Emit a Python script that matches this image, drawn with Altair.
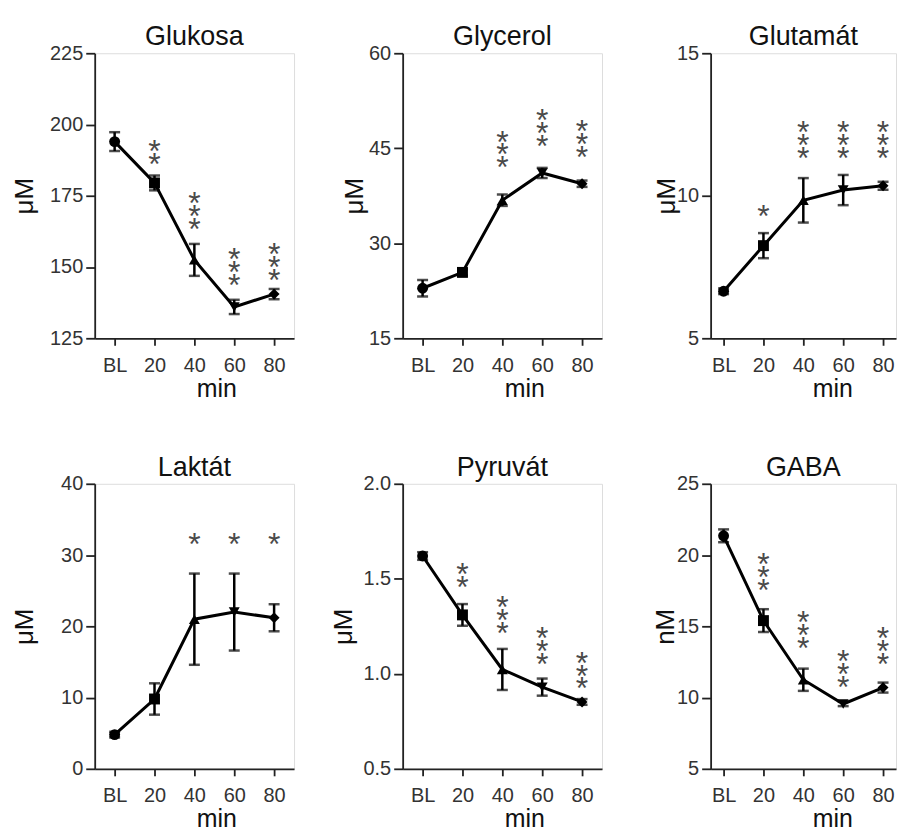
import altair as alt
import pandas as pd

times = ["BL", "20", "40", "60", "80"]
marker_shapes = ["circle", "square", "triangle-up", "triangle-down", "diamond"]

titles = ["Glukosa", "Glycerol", "Glutamát", "Laktát", "Pyruvát", "GABA"]
units = ["μM", "μM", "μM", "μM", "μM", "nM"]

glukosa_mean = [194.0, 179.5, 152.5, 136.0, 140.5]
glukosa_sem = [3.3, 2.6, 5.6, 2.5, 1.8]
glukosa_stars = ["", "**", "***", "***", "***"]
glukosa_star_y = [None, 190.1, 169.5, 150.0, 151.8]

glycerol_mean = [22.9, 25.4, 36.8, 41.1, 39.4]
glycerol_sem = [1.3, 0.5, 0.9, 0.8, 0.5]
glycerol_stars = ["", "", "***", "***", "***"]
glycerol_star_y = [None, None, 44.8, 48.2, 46.4]

glutamat_mean = [6.65, 8.25, 9.84, 10.2, 10.35]
glutamat_sem = [0.1, 0.44, 0.78, 0.53, 0.14]
glutamat_stars = ["", "*", "***", "***", "***"]
glutamat_star_y = [None, 9.46, 11.94, 11.94, 11.94]

laktat_mean = [4.8, 9.8, 21.0, 22.0, 21.2]
laktat_sem = [0.4, 2.2, 6.4, 5.4, 1.9]
laktat_stars = ["", "", "*", "*", "*"]
laktat_star_y = [None, None, 32.3, 32.3, 32.3]

pyruvat_mean = [1.62, 1.31, 1.023, 0.93, 0.852]
pyruvat_sem = [0.02, 0.057, 0.108, 0.045, 0.015]
pyruvat_stars = ["", "**", "***", "***", "***"]
pyruvat_star_y = [None, 1.516, 1.307, 1.145, 1.017]

gaba_mean = [21.35, 15.4, 11.25, 9.55, 10.7]
gaba_sem = [0.45, 0.8, 0.78, 0.15, 0.35]
gaba_stars = ["", "***", "***", "***", "***"]
gaba_star_y = [None, 18.8, 14.71, 11.98, 13.63]

y_domains = [[125, 225], [15, 60], [5, 15], [0, 40], [0.5, 2.0], [5, 25]]
y_ticks = [[125, 150, 175, 200, 225], [15, 30, 45, 60], [5, 10, 15],
           [0, 10, 20, 30, 40], [0.5, 1.0, 1.5, 2.0], [5, 10, 15, 20, 25]]
y_formats = ["d", "d", "d", "d", ".1f", "d"]

series = [
    (glukosa_mean, glukosa_sem, glukosa_stars, glukosa_star_y),
    (glycerol_mean, glycerol_sem, glycerol_stars, glycerol_star_y),
    (glutamat_mean, glutamat_sem, glutamat_stars, glutamat_star_y),
    (laktat_mean, laktat_sem, laktat_stars, laktat_star_y),
    (pyruvat_mean, pyruvat_sem, pyruvat_stars, pyruvat_star_y),
    (gaba_mean, gaba_sem, gaba_stars, gaba_star_y),
]

# layout styling (not data)
H = 286
widths = [200, 200, 186, 200, 200, 186]
xpad = [0.5, 0.5, 0.325, 0.5, 0.5, 0.325]
ytitle_x = [-70, -48, -44, -70, -59, -45]
xtitle_y = [58, 58, 58, 58, 58, 58]
FONT = "Liberation Sans"
AX = "#222222"
STAR_FS = 32
STAR_LH = 13


def panel(i):
    mean, sem, stars, star_y = series[i]
    df = pd.DataFrame({
        "t": times,
        "mean": mean,
        "lo": [m - s for m, s in zip(mean, sem)],
        "hi": [m + s for m, s in zip(mean, sem)],
        "shape": marker_shapes,
        "stars": ["\n".join(list(s)) for s in stars],
        "n": [len(s) for s in stars],
        "star_y": star_y,
    })
    xaxis = alt.Axis(
        labelAngle=0, domainColor=AX, domainWidth=1.8, tickColor=AX, tickWidth=1.8,
        tickSize=7, labelFontSize=20, labelFont=FONT, labelColor="#333333",
        labelPadding=10, title="min", titleFontSize=25, titleFont=FONT,
        titleFontWeight="normal", titleColor="#111111", titleX=122, titleY=xtitle_y[i],
        titleBaseline="alphabetic", titleAlign="center", grid=False,
    )
    X = alt.X("t:O", sort=times, scale=alt.Scale(type="point", padding=xpad[i]), axis=xaxis, title="min")
    yscale = alt.Scale(domain=y_domains[i], nice=False, zero=False)
    yaxis = alt.Axis(
        values=y_ticks[i], format=y_formats[i], grid=False, domainColor=AX, domainWidth=1.8,
        tickColor=AX, tickWidth=1.8, tickSize=9, labelFontSize=20, labelFont=FONT,
        labelColor="#333333", labelPadding=3, titleFontSize=26, titleFont=FONT,
        titleFontWeight="normal", titleColor="#111111", titleX=ytitle_x[i], titleY=H / 2,
        titleBaseline="middle", titleAlign="center",
    )

    def Y(field):
        return alt.Y(field, type="quantitative", scale=yscale, axis=yaxis, title=units[i])

    base = alt.Chart(df)
    layers = [
        base.mark_line(color="black", strokeWidth=3).encode(x=X, y=Y("mean")),
        base.mark_rule(color="black", strokeWidth=2.5).encode(x=X, y=Y("lo"), y2="hi"),
        base.mark_tick(color="black", thickness=2.5, size=11, orient="horizontal").encode(x=X, y=Y("lo")),
        base.mark_tick(color="black", thickness=2.5, size=11, orient="horizontal").encode(x=X, y=Y("hi")),
        base.mark_point(filled=True, size=120, color="black", opacity=1).encode(
            x=X, y=Y("mean"), shape=alt.Shape("shape:N", scale=None, legend=None)
        ),
    ]
    for n in (1, 2, 3):
        if n in df["n"].values:
            layers.append(
                base.transform_filter(f"datum.n == {n}").mark_text(
                    lineBreak="\n", lineHeight=STAR_LH, baseline="middle", align="center",
                    fontSize=STAR_FS, font=FONT, color="#4a4a4a",
                    dy=6 - (n - 1) * STAR_LH / 2,
                ).encode(x=X, y=Y("star_y"), text="stars:N")
            )

    return alt.layer(*layers).properties(
        width=widths[i], height=H,
        title=alt.TitleParams(titles[i], fontSize=27, font=FONT, fontWeight="normal",
                              color="#111111", offset=-8, anchor="middle"),
    )


chart = alt.concat(
    *[panel(i) for i in range(6)],
    columns=3,
    spacing={"row": 146, "column": 109},
    bounds="flush",
    align="each",
).properties(
    padding={"top": 13, "left": 3, "right": 0, "bottom": 0}
).configure_view(stroke=None).configure(font=FONT, background="white")

chart.save("out.html", embed_options={"renderer": "svg", "actions": False})
